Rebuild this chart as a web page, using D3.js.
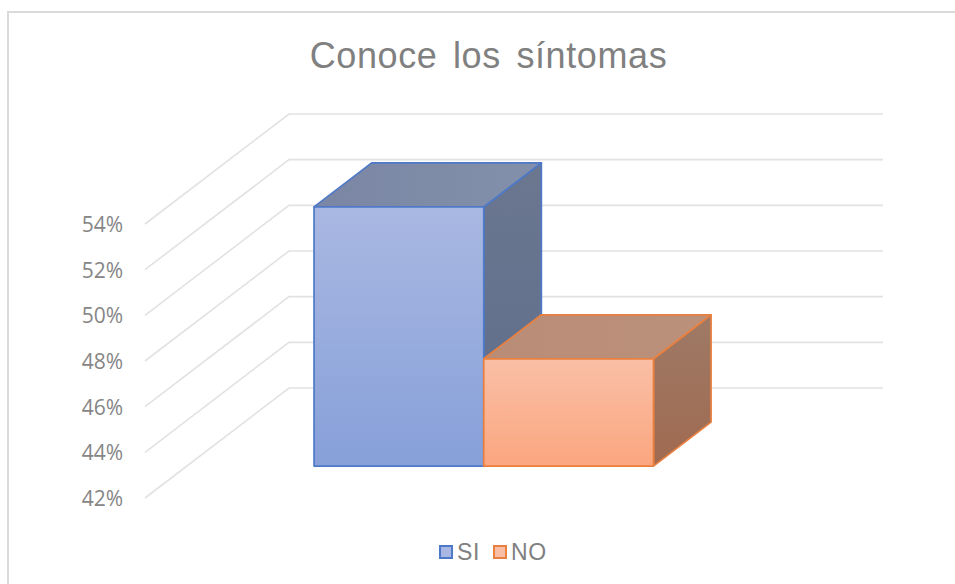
<!DOCTYPE html>
<html>
<head>
<meta charset="utf-8">
<script src="https://cdnjs.cloudflare.com/ajax/libs/d3/7.8.5/d3.min.js"></script>
<style>
  html, body { margin: 0; background: #fff; }
  svg { display: block; }
  text { font-family: "Liberation Sans", Arial, sans-serif; }
  .tick-label { font-family: "Open Sans", sans-serif; }
</style>
</head>
<body>
<svg id="chart"></svg>
<script>
const title = "Conoce los síntomas"
const categories = ["SI", "NO"]
const values = [53.35, 46.7]
const yTicks = [42, 44, 46, 48, 50, 52, 54]

const width = 955
const height = 584

// how far the back wall sits from the front edge of the floor
const depthX = 144
const depthY = -110
const barNear = 0.29
const barFar = 0.69

const frontLeft = 145
const floorWidth = 594

const colors = {
  SI: { line: "#4d79c8", top: "#a9b8e2", bottom: "#87a0d9", roofA: "#7a86a3", roofB: "#8390ab", sideA: "#6b778f", sideB: "#5f6d8c" },
  NO: { line: "#e98040", top: "#f9bfa6", bottom: "#fba67f", roofA: "#b98c76", roofB: "#bb917c", sideA: "#9e7a66", sideB: "#a06a50" }
}

let svg = d3.select("#chart").attr("width", width).attr("height", height)

let y = d3.scaleLinear().domain([42, 54]).range([498, 224])

let x = d3.scaleBand()
  .domain(categories)
  .range([frontLeft, frontLeft + floorWidth])
  .paddingInner(0)
  .paddingOuter(0.75)

// x/y of a point on the floor/wall at depth t (0 = front, 1 = back)
let px = (xVal, t) => xVal + depthX * t
let py = (v, t) => y(v) + depthY * t

let defs = svg.append("defs")

categories.forEach((c) => {
  let col = colors[c]
  let front = defs.append("linearGradient").attr("id", "front" + c).attr("x1", 0).attr("y1", 0).attr("x2", 0).attr("y2", 1)
  front.append("stop").attr("offset", 0).attr("stop-color", col.top)
  front.append("stop").attr("offset", 1).attr("stop-color", col.bottom)
  let roof = defs.append("linearGradient").attr("id", "roof" + c).attr("x1", 0).attr("y1", 0).attr("x2", 1).attr("y2", 0)
  roof.append("stop").attr("offset", 0).attr("stop-color", col.roofA)
  roof.append("stop").attr("offset", 1).attr("stop-color", col.roofB)
  let side = defs.append("linearGradient").attr("id", "side" + c).attr("x1", 0).attr("y1", 0).attr("x2", 0).attr("y2", 1)
  side.append("stop").attr("offset", 0).attr("stop-color", col.sideA)
  side.append("stop").attr("offset", 1).attr("stop-color", col.sideB)
})

// chart frame
svg.append("rect")
  .attr("x", 8).attr("y", 12)
  .attr("width", 960).attr("height", 600)
  .attr("fill", "#fff")
  .attr("stroke", "#dadada")
  .attr("stroke-width", 2)

svg.append("text")
  .attr("x", 488.5).attr("y", 68)
  .attr("text-anchor", "middle")
  .attr("font-size", 36)
  .attr("letter-spacing", 0.6)
  .attr("word-spacing", 5)
  .attr("fill", "#808080")
  .text(title)

// gridlines: floor side then back wall
let linePath = d3.line()
svg.selectAll(".grid")
  .data(yTicks)
  .enter()
  .append("path")
  .attr("class", "grid")
  .attr("fill", "none")
  .attr("stroke", "#e2e2e2")
  .attr("stroke-width", 1.6)
  .attr("d", (v) => linePath([
    [px(frontLeft, 0), py(v, 0)],
    [px(frontLeft, 1), py(v, 1)],
    [px(frontLeft + floorWidth, 1), py(v, 1)]
  ]))

svg.selectAll(".tick-label")
  .data(yTicks)
  .enter()
  .append("text")
  .attr("class", "tick-label")
  .attr("x", 123)
  .attr("y", (v) => y(v) + 8)
  .attr("text-anchor", "end")
  .attr("font-size", 21)
  .attr("fill", "#868686")
  .text((v) => v + "%")

let poly = (pts) => pts.map((p) => p.join(",")).join(" ")

let bars = svg.selectAll(".bar")
  .data(categories.map((c, i) => ({ c: c, v: values[i] })))
  .enter()
  .append("g")
  .attr("class", "bar")
  .attr("stroke-width", 1.7)
  .attr("stroke-linejoin", "round")
  .attr("stroke", (d) => colors[d.c].line)

// right side
bars.append("polygon")
  .attr("fill", (d) => "url(#side" + d.c + ")")
  .attr("points", (d) => {
    let r = x(d.c) + x.bandwidth()
    return poly([
      [px(r, barNear), py(d.v, barNear)],
      [px(r, barFar), py(d.v, barFar)],
      [px(r, barFar), py(42, barFar)],
      [px(r, barNear), py(42, barNear)]
    ])
  })

// roof
bars.append("polygon")
  .attr("fill", (d) => "url(#roof" + d.c + ")")
  .attr("points", (d) => {
    let l = x(d.c)
    let r = l + x.bandwidth()
    return poly([
      [px(l, barNear), py(d.v, barNear)],
      [px(l, barFar), py(d.v, barFar)],
      [px(r, barFar), py(d.v, barFar)],
      [px(r, barNear), py(d.v, barNear)]
    ])
  })

// front
bars.append("rect")
  .attr("x", (d) => px(x(d.c), barNear))
  .attr("y", (d) => py(d.v, barNear))
  .attr("width", x.bandwidth())
  .attr("height", (d) => py(42, barNear) - py(d.v, barNear))
  .attr("fill", (d) => "url(#front" + d.c + ")")

// legend
let legendX = d3.scaleOrdinal().domain(categories).range([440, 494])
let legend = svg.selectAll(".legend")
  .data(categories)
  .enter()
  .append("g")
  .attr("class", "legend")
  .attr("transform", (c) => "translate(" + legendX(c) + ",546)")

legend.append("rect")
  .attr("width", 12).attr("height", 12)
  .attr("fill", (c) => colors[c].top)
  .attr("stroke", (c) => colors[c].line)
  .attr("stroke-width", 2)

legend.append("text")
  .attr("x", 17).attr("y", 14)
  .attr("font-size", 23)
  .attr("letter-spacing", 0.6)
  .attr("fill", "#808080")
  .text((c) => c)
</script>
</body>
</html>
